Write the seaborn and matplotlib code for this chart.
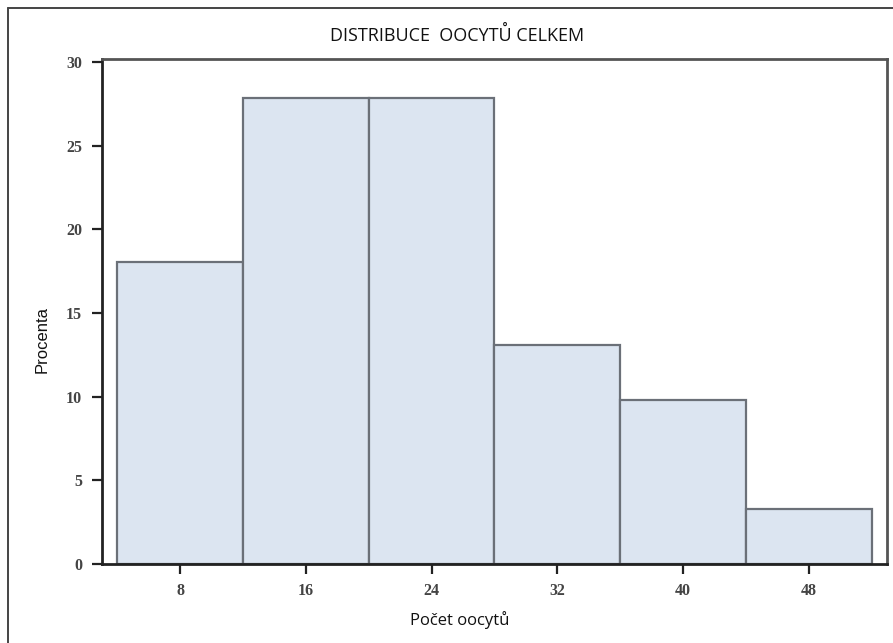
import matplotlib
matplotlib.use("Agg")
import matplotlib.pyplot as plt
from matplotlib.lines import Line2D
import numpy as np
import pandas as pd
import seaborn as sns

# Histogram of total oocyte counts (percent of cases per bin)
bin_centers = [8, 16, 24, 32, 40, 48]
percent = [18.05, 27.85, 27.85, 13.1, 9.8, 3.3]
bin_edges = [4, 12, 20, 28, 36, 44, 52]
x_ticks = [8, 16, 24, 32, 40, 48]
y_ticks = [0, 5, 10, 15, 20, 25, 30]

title_text = "DISTRIBUCE  OOCYTŮ CELKEM"
x_label = "Počet oocytů"
y_label = "Procenta"

sns.set_theme(style="white")
plt.rcParams["font.family"] = ["DejaVu Sans"]

df = pd.DataFrame({"pocet": bin_centers, "procenta": percent})

fig = plt.figure(figsize=(8.93, 6.43), dpi=100)
ax = fig.add_axes([101.5 / 893, 1 - 563.7 / 643, (887.3 - 101.5) / 893, (563.7 - 59) / 643])

sns.histplot(data=df, x="pocet", weights="procenta", bins=bin_edges,
             stat="count", color="#dce5f1", edgecolor="#6b7078",
             linewidth=1.6, alpha=1.0, ax=ax)

ax.set_xlim(3, 53)
ax.set_ylim(0, 30.2)
ax.set_xticks(x_ticks)
ax.set_yticks(y_ticks)
ax.set_xlabel("")
ax.set_ylabel("")

tick_font = dict(family=["Liberation Serif"], size=11.5, weight="bold")
ax.set_xticklabels([str(v) for v in x_ticks], color="#444444", **tick_font)
ax.set_yticklabels([str(v) for v in y_ticks], color="#444444", **tick_font)
ax.tick_params(axis="both", which="major", direction="out", length=7,
               width=1.6, color="#222222", pad=7, left=True, bottom=True)

for side in ("left", "bottom"):
    ax.spines[side].set_color("#222222")
    ax.spines[side].set_linewidth(2.0)
for side in ("top", "right"):
    ax.spines[side].set_visible(True)
    ax.spines[side].set_color("#555555")
    ax.spines[side].set_linewidth(2.0)

# Titles and axis labels
fig.text(457 / 893, 1 - 35.5 / 643, title_text, ha="center", va="center",
         family=["Open Sans"], size=13, color="#111111")
fig.text(460 / 893, 1 - 620 / 643, x_label, ha="center", va="center",
         family=["Open Sans"], size=12, color="#111111")
fig.text(42 / 893, 1 - 340 / 643, y_label, ha="center", va="center",
         rotation=90, family=["Liberation Sans"], size=12, color="#111111")

# Outer frame: left and top edges
fig.add_artist(Line2D([7.5 / 893, 7.5 / 893], [0, 1 - 7.5 / 643],
                      transform=fig.transFigure, color="#444444", linewidth=1.4))
fig.add_artist(Line2D([7.5 / 893, 1], [1 - 7.5 / 643, 1 - 7.5 / 643],
                      transform=fig.transFigure, color="#444444", linewidth=1.4))

fig.savefig("out.png", dpi=100, facecolor="white")
